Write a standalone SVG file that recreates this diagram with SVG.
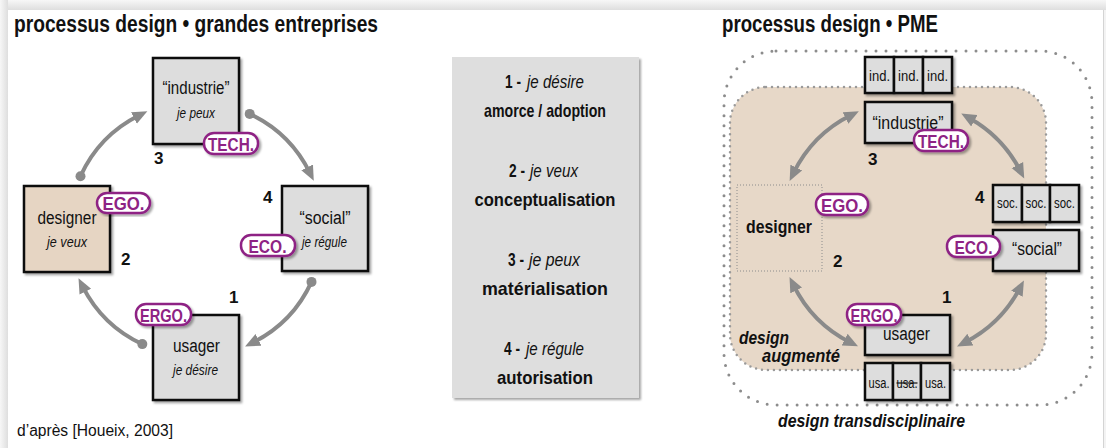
<svg xmlns="http://www.w3.org/2000/svg" width="1106" height="448" viewBox="0 0 1106 448">
<style>
text{font-family:"Liberation Sans",Arial,sans-serif;fill:#111}
.title{font-size:23px;font-weight:bold}
.lbl{font-size:18px}
.it{font-size:14px;font-style:italic}
.num{font-size:17px;font-weight:bold}
.mid{font-size:19px;font-weight:bold;text-anchor:middle}
.midn{font-size:19px;font-weight:bold}
.midi{font-size:18px;font-style:italic}
.c{text-anchor:middle}
.box{fill:#dddddd;stroke:#111;stroke-width:2.5}
.tan{fill:#e6d5c3;stroke:#111;stroke-width:2.5}
.sub{fill:#dddddd;stroke:#111;stroke-width:2.5}
.subt{font-size:14px;text-anchor:middle}
.badge{fill:#fff;stroke:#8e2384;stroke-width:2.5}
.bt{font-size:18px;font-weight:bold;fill:#8e2384;text-anchor:middle}
.arc{fill:none;stroke:#8a8a8a;stroke-width:4}
.dot{fill:#8a8a8a}
.bi{font-weight:bold;font-style:italic;font-size:18px}
</style>
<defs>
<filter id="sh" x="-10%" y="-10%" width="130%" height="130%">
<feDropShadow dx="2" dy="2" stdDeviation="1.2" flood-color="#000" flood-opacity="0.35"/>
</filter>
<marker id="ah" markerUnits="userSpaceOnUse" markerWidth="16" markerHeight="14" refX="6" refY="7" orient="auto-start-reverse" viewBox="0 0 16 14">
<path d="M0,0.5 L15,7 L0,13.5 z" fill="#8a8a8a"/>
</marker>
<linearGradient id="tg" x1="0" y1="0" x2="0" y2="1">
<stop offset="0" stop-color="#f7f7f7"/><stop offset="1" stop-color="#dedede"/>
</linearGradient>
<linearGradient id="lg" x1="0" y1="0" x2="1" y2="0">
<stop offset="0" stop-color="#f7f7f7"/><stop offset="1" stop-color="#dedede"/>
</linearGradient>
</defs>

<!-- background -->
<rect x="0" y="0" width="1106" height="448" fill="#f3f3f3"/>
<rect x="0" y="0" width="1106" height="10" fill="url(#tg)"/>
<rect x="0" y="0" width="8" height="448" fill="url(#lg)"/>
<rect x="8" y="10" width="1096" height="438" fill="#ffffff"/>
<line x1="1103.5" y1="10" x2="1103.5" y2="448" stroke="#d4d4d4" stroke-width="1"/>

<!-- LEFT: grandes entreprises -->
<text class="title" x="14" y="32" textLength="364" lengthAdjust="spacingAndGlyphs">processus design • grandes entreprises</text>

<g id="left-connectors">
<path class="arc" d="M80.5,176.2 A127,127 0 0 1 139.3,115.3" marker-end="url(#ah)"/>
<circle class="dot" cx="80.5" cy="176.2" r="5"/>
<path class="arc" d="M249.7,113.9 A127,127 0 0 1 309.8,172.7" marker-end="url(#ah)"/>
<circle class="dot" cx="249.7" cy="113.9" r="5"/>
<path class="arc" d="M311.5,281.9 A127,127 0 0 1 253.1,342.5" marker-end="url(#ah)"/>
<circle class="dot" cx="311.5" cy="281.9" r="5"/>
<path class="arc" d="M142.3,344.1 A127,127 0 0 1 82.6,286.3" marker-end="url(#ah)"/>
<circle class="dot" cx="142.3" cy="344.1" r="5"/>
</g>

<g id="l-industrie">
<rect class="box" x="153" y="58" width="86" height="86" filter="url(#sh)"/>
<text class="lbl c" x="196" y="94" textLength="67" lengthAdjust="spacingAndGlyphs">“industrie”</text>
<text class="it c" x="196" y="118" textLength="38" lengthAdjust="spacingAndGlyphs">je peux</text>
<text class="num" x="154" y="164">3</text>
<rect class="badge" x="204" y="133" width="54" height="21" rx="10" filter="url(#sh)"/>
<text class="bt" x="231" y="150.5" textLength="46" lengthAdjust="spacingAndGlyphs">TECH.</text>
</g>

<g id="l-designer">
<rect class="tan" x="24" y="186" width="86" height="86" filter="url(#sh)"/>
<text class="lbl c" x="67" y="224" textLength="59" lengthAdjust="spacingAndGlyphs">designer</text>
<text class="it c" x="67" y="247" textLength="40" lengthAdjust="spacingAndGlyphs">je veux</text>
<text class="num" x="121" y="265">2</text>
<rect class="badge" x="97" y="193" width="53" height="20" rx="10" filter="url(#sh)"/>
<text class="bt" x="123.5" y="210" textLength="42" lengthAdjust="spacingAndGlyphs">EGO.</text>
</g>

<g id="l-social">
<rect class="box" x="282" y="186" width="86" height="85" filter="url(#sh)"/>
<text class="lbl c" x="325" y="224" textLength="51" lengthAdjust="spacingAndGlyphs">“social”</text>
<text class="it" x="302" y="247" textLength="45" lengthAdjust="spacingAndGlyphs">je régule</text>
<text class="num" x="263" y="203">4</text>
<rect class="badge" x="241" y="235" width="54" height="21" rx="10" filter="url(#sh)"/>
<text class="bt" x="267.5" y="252.5" textLength="38" lengthAdjust="spacingAndGlyphs">ECO.</text>
</g>

<g id="l-usager">
<rect class="box" x="153" y="315" width="86" height="85" filter="url(#sh)"/>
<text class="lbl c" x="196.5" y="352" textLength="47" lengthAdjust="spacingAndGlyphs">usager</text>
<text class="it c" x="195.5" y="375" textLength="45" lengthAdjust="spacingAndGlyphs">je désire</text>
<text class="num" x="229" y="303">1</text>
<rect class="badge" x="136" y="304" width="55" height="21" rx="10" filter="url(#sh)"/>
<text class="bt" x="163.5" y="321.5" textLength="47" lengthAdjust="spacingAndGlyphs">ERGO.</text>
</g>

<text x="17" y="436" font-size="16" textLength="156" lengthAdjust="spacingAndGlyphs">d’après [Houeix, 2003]</text>

<!-- MIDDLE legend -->
<g id="legend">
<rect x="452" y="57" width="187" height="341" fill="#dedede" filter="url(#sh)"/>
<text class="midn" x="505" y="88" textLength="16" lengthAdjust="spacingAndGlyphs">1 -</text>
<text class="midi" x="527" y="88" textLength="57" lengthAdjust="spacingAndGlyphs">je désire</text>
<text class="mid" x="545" y="117" textLength="122" lengthAdjust="spacingAndGlyphs">amorce / adoption</text>
<text class="midn" x="509" y="177" textLength="16" lengthAdjust="spacingAndGlyphs">2 -</text>
<text class="midi" x="530" y="177" textLength="48" lengthAdjust="spacingAndGlyphs">je veux</text>
<text class="mid" x="545" y="206" textLength="141" lengthAdjust="spacingAndGlyphs">conceptualisation</text>
<text class="midn" x="508" y="266" textLength="16" lengthAdjust="spacingAndGlyphs">3 -</text>
<text class="midi" x="529" y="266" textLength="51" lengthAdjust="spacingAndGlyphs">je peux</text>
<text class="mid" x="545" y="295" textLength="126" lengthAdjust="spacingAndGlyphs">matérialisation</text>
<text class="midn" x="504" y="355" textLength="16" lengthAdjust="spacingAndGlyphs">4 -</text>
<text class="midi" x="526" y="355" textLength="58" lengthAdjust="spacingAndGlyphs">je régule</text>
<text class="mid" x="545" y="384" textLength="96" lengthAdjust="spacingAndGlyphs">autorisation</text>
</g>

<!-- RIGHT: PME -->
<text class="title" x="722" y="32" textLength="216" lengthAdjust="spacingAndGlyphs">processus design • PME</text>

<g id="zone-transdisciplinaire">
<rect x="724" y="51" width="368" height="354" rx="52" fill="none" stroke="#8c8c8c" stroke-width="3" stroke-dasharray="0 10" stroke-linecap="round"/>
<text class="bi" x="778" y="427" textLength="187" lengthAdjust="spacingAndGlyphs">design transdisciplinaire</text>
</g>

<g id="zone-augmente">
<rect x="730" y="87" width="316" height="283" rx="36" fill="#e7d8c8" stroke="#9a9a9a" stroke-width="2.5" stroke-dasharray="0 6" stroke-linecap="round"/>
<text class="bi" x="739" y="344" textLength="50" lengthAdjust="spacingAndGlyphs">design</text>
<text class="bi" x="762" y="362" textLength="78" lengthAdjust="spacingAndGlyphs">augmenté</text>
</g>

<g id="right-connectors">
<path class="arc" d="M793.6,172.9 A127,127 0 0 1 850.8,115.3" marker-start="url(#ah)" marker-end="url(#ah)"/>
<path class="arc" d="M969.1,117.9 A127,127 0 0 1 1020.1,170.4" marker-start="url(#ah)" marker-end="url(#ah)"/>
<path class="arc" d="M1019.7,288.4 A127,127 0 0 1 965.0,342.3" marker-start="url(#ah)" marker-end="url(#ah)"/>
<path class="arc" d="M850.0,342.3 A127,127 0 0 1 793.5,285.1" marker-start="url(#ah)" marker-end="url(#ah)"/>
</g>

<g id="r-ind">
<g filter="url(#sh)">
<rect class="sub" x="865" y="57" width="29" height="36"/>
<rect class="sub" x="894" y="57" width="29" height="36"/>
<rect class="sub" x="923" y="57" width="29" height="36"/>
</g>
<text class="subt" x="879.5" y="81" textLength="21" lengthAdjust="spacingAndGlyphs">ind.</text>
<text class="subt" x="908.5" y="81" textLength="21" lengthAdjust="spacingAndGlyphs">ind.</text>
<text class="subt" x="937.5" y="81" textLength="21" lengthAdjust="spacingAndGlyphs">ind.</text>
</g>

<g id="r-industrie">
<rect class="box" x="865" y="102" width="87" height="41" filter="url(#sh)"/>
<text class="lbl c" x="908" y="129" textLength="71" lengthAdjust="spacingAndGlyphs">“industrie”</text>
<text class="num" x="868" y="165">3</text>
<rect class="badge" x="914" y="130" width="54" height="21" rx="10" filter="url(#sh)"/>
<text class="bt" x="941" y="147.5" textLength="46" lengthAdjust="spacingAndGlyphs">TECH.</text>
</g>

<g id="r-designer">
<rect x="737" y="185" width="85" height="86" fill="none" stroke="#8c8c8c" stroke-width="1" stroke-dasharray="1 2"/>
<text x="779" y="233" font-size="19" font-weight="bold" text-anchor="middle" textLength="66" lengthAdjust="spacingAndGlyphs">designer</text>
<text class="num" x="833" y="267">2</text>
<rect class="badge" x="816" y="194" width="52" height="21" rx="10" filter="url(#sh)"/>
<text class="bt" x="842" y="211.5" textLength="42" lengthAdjust="spacingAndGlyphs">EGO.</text>
</g>

<g id="r-soc">
<g filter="url(#sh)">
<rect class="sub" x="993" y="185" width="29" height="37"/>
<rect class="sub" x="1022" y="185" width="28" height="37"/>
<rect class="sub" x="1050" y="185" width="29" height="37"/>
</g>
<text class="subt" x="1007.5" y="208" textLength="21" lengthAdjust="spacingAndGlyphs">soc.</text>
<text class="subt" x="1036" y="208" textLength="21" lengthAdjust="spacingAndGlyphs">soc.</text>
<text class="subt" x="1064.5" y="208" textLength="21" lengthAdjust="spacingAndGlyphs">soc.</text>
<text class="num" x="975" y="203">4</text>
</g>

<g id="r-social">
<rect class="box" x="993" y="230" width="86" height="41" filter="url(#sh)"/>
<text class="lbl c" x="1037" y="255" textLength="50" lengthAdjust="spacingAndGlyphs">“social”</text>
<rect class="badge" x="947" y="236" width="53" height="21" rx="10" filter="url(#sh)"/>
<text class="bt" x="973.5" y="253.5" textLength="38" lengthAdjust="spacingAndGlyphs">ECO.</text>
</g>

<g id="r-usager">
<rect class="box" x="865" y="315" width="85" height="40" filter="url(#sh)"/>
<text class="lbl c" x="906.5" y="340" textLength="47" lengthAdjust="spacingAndGlyphs">usager</text>
<text class="num" x="942" y="303">1</text>
<rect class="badge" x="847" y="304" width="54" height="21" rx="10" filter="url(#sh)"/>
<text class="bt" x="874" y="321.5" textLength="47" lengthAdjust="spacingAndGlyphs">ERGO.</text>
</g>

<g id="r-usa">
<g filter="url(#sh)">
<rect class="sub" x="865" y="363" width="28" height="37"/>
<rect class="sub" x="893" y="363" width="28" height="37"/>
<rect class="sub" x="921" y="363" width="29" height="37"/>
</g>
<text class="subt" x="879" y="388" textLength="21" lengthAdjust="spacingAndGlyphs">usa.</text>
<text class="subt" x="907" y="388" textLength="21" lengthAdjust="spacingAndGlyphs">usa.</text>
<line x1="896.5" y1="383" x2="917.5" y2="383" stroke="#111" stroke-width="1.2"/>
<text class="subt" x="935.5" y="388" textLength="21" lengthAdjust="spacingAndGlyphs">usa.</text>
</g>
</svg>
